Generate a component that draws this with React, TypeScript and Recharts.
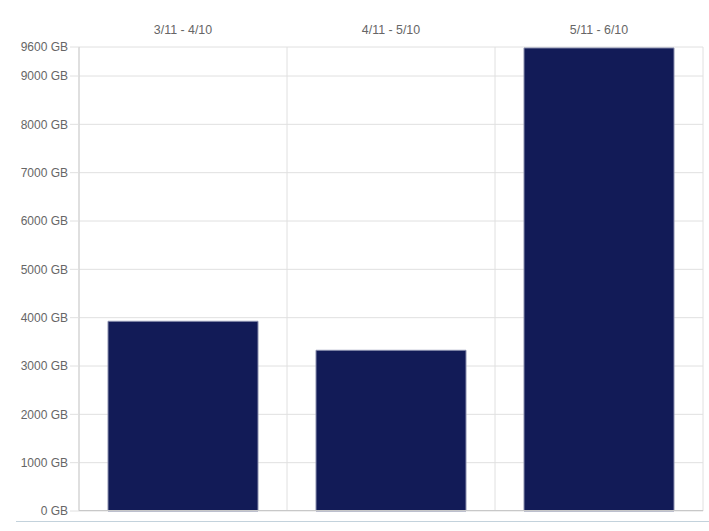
import React from "react";
import { BarChart, Bar, XAxis, YAxis, CartesianGrid } from "recharts";

const periods = ["3/11 - 4/10", "4/11 - 5/10", "5/11 - 6/10"];
const usageGB = [3925, 3325, 9580];
const yTicks = [0, 1000, 2000, 3000, 4000, 5000, 6000, 7000, 8000, 9000, 9600];
const gridBoundaries = [0, 1, 2, 3];

const data = periods.map((p, i) => ({ period: p, usage: usageGB[i] }));

const font = "'Liberation Sans', Arial, Helvetica, sans-serif";

export default function App() {
  return (
    <div style={{ position: "absolute", left: 0, top: 0, width: 709, height: 531, background: "#fff" }}>
      <BarChart
        width={709}
        height={531}
        data={data}
        margin={{ top: 17, right: 6, bottom: 20, left: 0 }}
      >
        <XAxis
          dataKey="period"
          orientation="top"
          height={30}
          tickSize={9}
          tickMargin={4}
          tickLine={false}
          axisLine={false}
          tick={{ fill: "#666", fontSize: 12.4, fontFamily: font }}
        />
        <YAxis
          domain={[0, 9600]}
          ticks={yTicks}
          interval={0}
          width={79}
          tickSize={9}
          tickMargin={2}
          tickFormatter={(v: number) => `${v} GB`}
          tick={{ fill: "#666", fontSize: 12, fontFamily: font }}
          axisLine={{ stroke: "#cfcfcf" }}
          tickLine={{ stroke: "#e0e0e0" }}
        />
        <CartesianGrid
          stroke="#e0e0e0"
          verticalCoordinatesGenerator={({ offset }: any) =>
            gridBoundaries.map((b) => offset.left + (b * offset.width) / 3)
          }
        />
        <Bar
          dataKey="usage"
          fill="#121b57"
          stroke="#8a8fae"
          strokeWidth={1}
          barSize={150}
          isAnimationActive={false}
        />
      </BarChart>
      <div
        style={{
          position: "absolute",
          left: 16,
          top: 521,
          width: 693,
          height: 0,
          borderTop: "1px solid #c3d2dc",
        }}
      />
      <div
        style={{
          position: "absolute",
          left: 79,
          top: 510,
          width: 624,
          height: 0,
          borderTop: "1px solid #c8c8c8",
        }}
      />
    </div>
  );
}
